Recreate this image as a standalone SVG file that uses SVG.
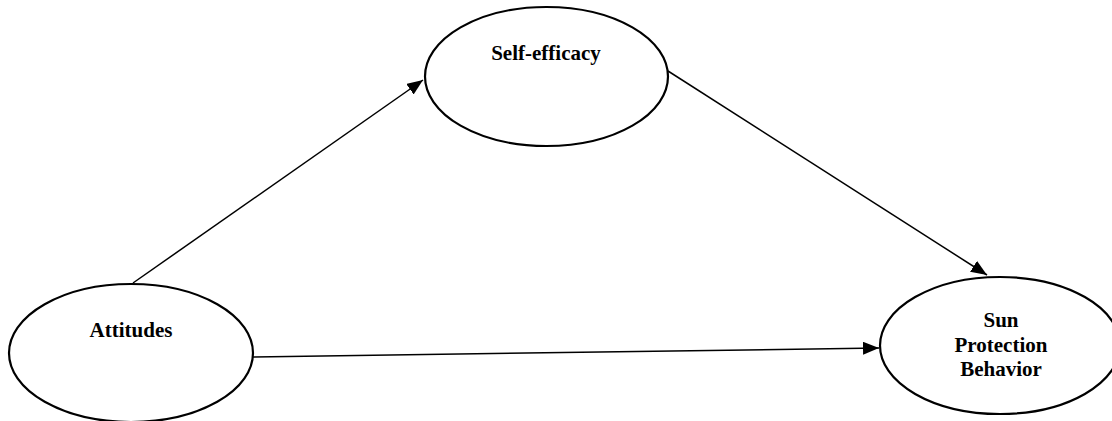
<svg xmlns="http://www.w3.org/2000/svg" width="1112" height="421" viewBox="0 0 1112 421">
<style>
.node{fill:#fff;stroke:#000;stroke-width:2.2}
.lbl{font-family:'Liberation Serif','Times New Roman','DejaVu Serif',serif;font-weight:700;font-size:21px;fill:#000;text-anchor:middle}
.edge{stroke:#000;stroke-width:1.5;fill:none;marker-end:url(#arr)}
</style>
<defs>
<marker id="arr" markerUnits="userSpaceOnUse" markerWidth="17" markerHeight="13" refX="16" refY="6.5" orient="auto">
<path d="M0,0 L16,6.5 L0,13 Z" fill="#000"/>
</marker>
</defs>
<rect width="1112" height="421" fill="#fff"/>
<g id="connectors">
<line class="edge" x1="133" y1="283" x2="423" y2="80"/>
<line class="edge" x1="668" y1="71" x2="987" y2="275"/>
<line class="edge" x1="253" y1="357" x2="879" y2="348"/>
</g>
<g id="attitudes">
<ellipse class="node" cx="131" cy="353" rx="122" ry="69"/>
<text class="lbl" x="131" y="337">Attitudes</text>
</g>
<g id="self-efficacy">
<ellipse class="node" cx="546.5" cy="76.5" rx="121.5" ry="69.5"/>
<text class="lbl" x="546" y="60">Self-efficacy</text>
</g>
<g id="sun-protection-behavior">
<ellipse class="node" cx="1000" cy="345.5" rx="120" ry="68.5"/>
<text class="lbl" x="1001" y="327">Sun</text>
<text class="lbl" x="1001" y="352">Protection</text>
<text class="lbl" x="1001" y="376">Behavior</text>
</g>
</svg>
